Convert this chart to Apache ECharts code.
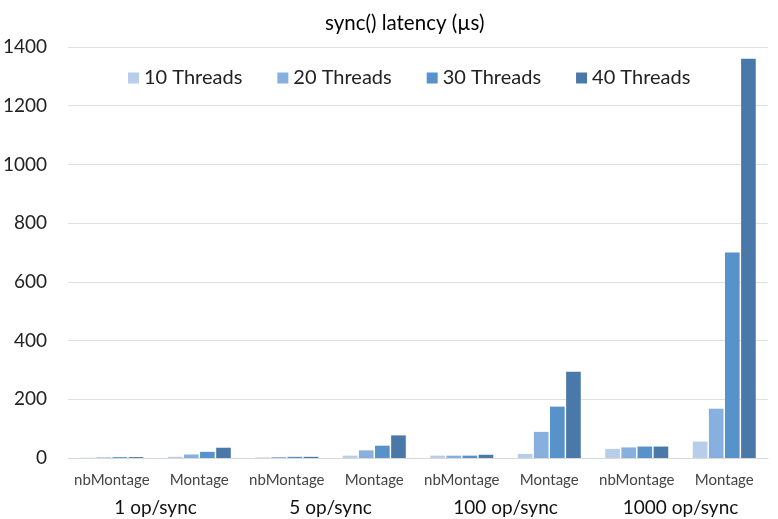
<!DOCTYPE html>
<html>
<head>
<meta charset="utf-8">
<script src="https://cdn.jsdelivr.net/npm/echarts@6/dist/echarts.min.js"></script>
<style>
  html, body { margin: 0; padding: 0; background: #fff; }
  #chart { width: 778px; height: 519px; }
</style>
</head>
<body>
<div id="chart"></div>
<script>
// data
var systems = ['nbMontage', 'Montage', 'nbMontage', 'Montage', 'nbMontage', 'Montage', 'nbMontage', 'Montage'];
var groups = ['1 op/sync', '5 op/sync', '100 op/sync', '1000 op/sync'];
var seriesNames = ['10 Threads', '20 Threads', '30 Threads', '40 Threads'];
var threads10 = [1, 4, 2, 8, 8, 14, 31, 56];
var threads20 = [2, 12, 3, 26, 8, 89, 36, 168];
var threads30 = [3, 21, 4, 42, 8, 175, 39, 700];
var threads40 = [3, 35, 4, 77, 11, 294, 39, 1360];
var colors = ['#b7cde9', '#88b0de', '#5792cb', '#4a78a9'];

var chart = echarts.init(document.getElementById('chart'));
var font = 'Lato, "Open Sans", sans-serif';

function bar(name, data, idx) {
  return {
    name: name,
    type: 'bar',
    data: data,
    barGap: '10%',
    barCategoryGap: '28%',
    itemStyle: { color: colors[idx] }
  };
}

var option = {
  animation: false,
  textStyle: { fontFamily: font },
  title: {
    text: 'sync() latency (\u00b5s)',
    left: 320,
    top: 8,
    textStyle: { fontFamily: font, fontSize: 20.5, fontWeight: 'normal', color: '#000' }
  },
  legend: {
    data: seriesNames,
    top: 63,
    left: 123,
    itemWidth: 11,
    itemHeight: 11,
    itemGap: 35,
    icon: 'rect',
    textStyle: { fontFamily: font, fontSize: 20, color: '#222' }
  },
  grid: { left: 65, right: 10, top: 47, bottom: 61 },
  xAxis: [{
    type: 'category',
    data: systems,
    axisLine: { lineStyle: { color: '#d9d9d9' } },
    axisTick: { show: false },
    axisLabel: { fontFamily: font, fontSize: 15, color: '#444', margin: 15, interval: 0 }
  }, {
    type: 'category',
    data: groups,
    position: 'bottom',
    offset: 32,
    axisLine: { show: false },
    axisTick: { show: false },
    axisLabel: { fontFamily: font, fontSize: 19, color: '#111', interval: 0 }
  }],
  yAxis: {
    type: 'value',
    min: 0,
    max: 1400,
    interval: 200,
    axisLine: { show: false },
    axisTick: { show: false },
    splitLine: { lineStyle: { color: '#e0e0e0' } },
    axisLabel: {
      fontFamily: font, fontSize: 19, color: '#222', margin: 21,
      formatter: function (v) { return String(v); }
    }
  },
  series: [
    bar(seriesNames[0], threads10, 0),
    bar(seriesNames[1], threads20, 1),
    bar(seriesNames[2], threads30, 2),
    bar(seriesNames[3], threads40, 3)
  ]
};
chart.setOption(option);
</script>
</body>
</html>
